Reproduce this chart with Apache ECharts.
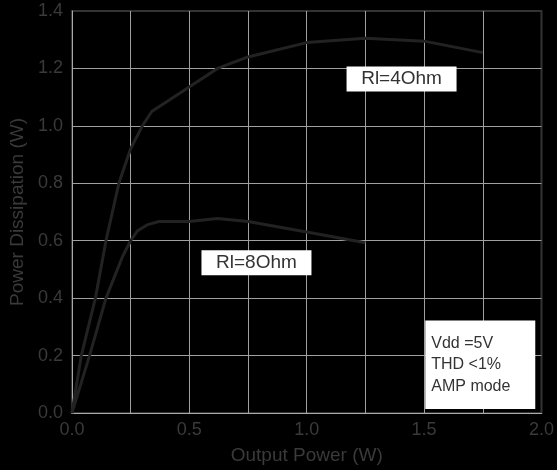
<!DOCTYPE html>
<html>
<head>
<meta charset="utf-8">
<script src="https://cdn.jsdelivr.net/npm/echarts@6/dist/echarts.min.js"></script>
<style>
  html, body { margin: 0; padding: 0; background: #000; }
  #chart { width: 557px; height: 470px; }
</style>
</head>
<body>
<div id="chart"></div>
<script>
// Power dissipation vs output power, two load resistances
const rl4Power = [0, 0.04, 0.1, 0.145, 0.2, 0.25, 0.3, 0.34, 0.62, 0.75, 1.0, 1.25, 1.5, 1.75];
const rl4Diss  = [0, 0.2, 0.4, 0.6, 0.8, 0.92, 1.0, 1.05, 1.2, 1.24, 1.29, 1.305, 1.295, 1.255];

const rl8Power = [0, 0.075, 0.145, 0.216, 0.25, 0.28, 0.32, 0.37, 0.5, 0.62, 0.75, 1.0, 1.25];
const rl8Diss  = [0, 0.2, 0.4, 0.546, 0.6, 0.635, 0.655, 0.667, 0.667, 0.677, 0.667, 0.63, 0.593];

const xTicks = [0.0, 0.5, 1.0, 1.5, 2.0];
const yTicks = [0.0, 0.2, 0.4, 0.6, 0.8, 1.0, 1.2, 1.4];

const seriesNames = ['Rl=4Ohm', 'Rl=8Ohm'];
const conditions = ['Vdd =5V', 'THD <1%', 'AMP mode'];

const FONT = '"Liberation Sans", Arial, Helvetica, sans-serif';
const pairs = (xs, ys) => xs.map((x, i) => [x, ys[i]]);

const chart = echarts.init(document.getElementById('chart'), null, { renderer: 'canvas' });

const boxLabel = {
  show: true,
  position: 'inside',
  formatter: p => p.name,
  backgroundColor: '#ffffff',
  color: '#333333',
  fontFamily: FONT,
  fontSize: 19,
  width: 110,
  height: 25,
  lineHeight: 25,
  align: 'center',
  verticalAlign: 'middle'
};

chart.setOption({
  backgroundColor: '#000000',
  animation: false,
  grid: {
    left: 69, right: 15, top: 11, bottom: 56,
    show: true,
    borderColor: '#333333',
    borderWidth: 2,
    backgroundColor: 'transparent'
  },
  xAxis: {
    type: 'value',
    min: 0, max: 2, interval: 0.25,
    name: 'Output Power (W)',
    nameLocation: 'middle',
    nameGap: 33,
    nameTextStyle: { color: '#3a3a3a', fontSize: 19, fontFamily: FONT },
    axisLine: { show: true, lineStyle: { color: '#aaaaaa', width: 1 } },
    axisTick: { show: false },
    axisLabel: {
      color: '#3a3a3a', fontSize: 18, fontFamily: FONT, margin: 8,
      formatter: v => xTicks.some(t => Math.abs(t - v) < 1e-9) ? v.toFixed(1) : ''
    },
    splitLine: { show: true, showMaxLine: false, lineStyle: { color: '#a0a0a0', width: 1 } }
  },
  yAxis: {
    type: 'value',
    min: 0, max: 1.4, interval: 0.2,
    name: 'Power Dissipation (W)',
    nameLocation: 'middle',
    nameGap: 44,
    nameTextStyle: { color: '#3a3a3a', fontSize: 19, fontFamily: FONT },
    axisLine: { show: true, lineStyle: { color: '#aaaaaa', width: 1 } },
    axisTick: { show: false },
    axisLabel: {
      color: '#3a3a3a', fontSize: 18, fontFamily: FONT, margin: 9,
      formatter: v => yTicks.some(t => Math.abs(t - v) < 1e-9) ? v.toFixed(1) : ''
    },
    splitLine: { show: true, showMaxLine: false, lineStyle: { color: '#a0a0a0', width: 1 } }
  },
  series: [
    {
      name: seriesNames[0],
      type: 'line',
      data: pairs(rl4Power, rl4Diss),
      symbol: 'none',
      lineStyle: { color: '#222222', width: 3 },
      markPoint: {
        symbol: 'circle', symbolSize: 0,
        label: boxLabel,
        data: [{ name: seriesNames[0], coord: [1.404, 1.163] }]
      }
    },
    {
      name: seriesNames[1],
      type: 'line',
      data: pairs(rl8Power, rl8Diss),
      symbol: 'none',
      lineStyle: { color: '#222222', width: 3 },
      markPoint: {
        symbol: 'circle', symbolSize: 0,
        label: boxLabel,
        data: [
          { name: seriesNames[1], coord: [0.786, 0.523] },
          {
            name: conditions.join('\n'),
            coord: [1.505, 0.168],
            label: {
              show: true,
              position: 'inside',
              formatter: p => p.name,
              backgroundColor: '#ffffff',
              color: '#333333',
              fontFamily: FONT,
              fontSize: 16,
              lineHeight: 21.5,
              width: 104,
              height: 64.5,
              padding: [12, 0, 12, 6],
              align: 'left',
              verticalAlign: 'middle'
            }
          }
        ]
      }
    }
  ]
});
</script>
</body>
</html>
